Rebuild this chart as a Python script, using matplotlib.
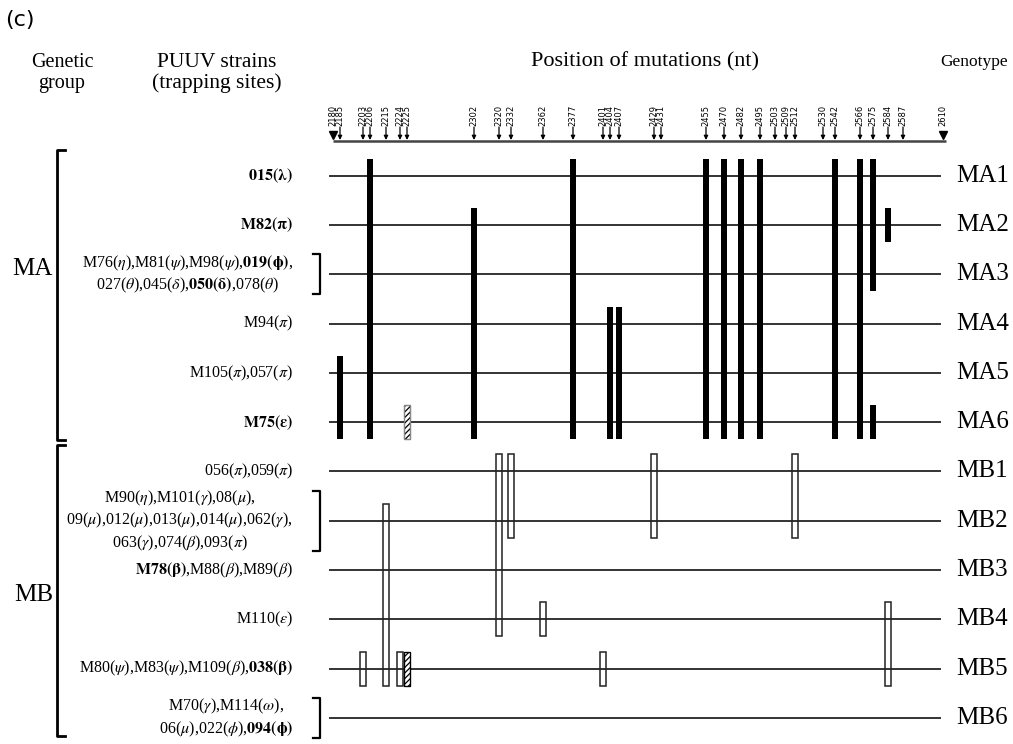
import numpy as np
import matplotlib.pyplot as plt
from matplotlib.patches import Rectangle

plt.rcParams['font.family'] = ['Liberation Serif', 'DejaVu Serif']
plt.rcParams['mathtext.fontset'] = 'stix'
plt.rcParams['hatch.linewidth'] = 0.9

# ---- data ----
# mutation positions (nt) shown on the header axis
mut_nt = [2180, 2185, 2203, 2206, 2215, 2224, 2225, 2302, 2320, 2332, 2362,
          2377, 2401, 2404, 2407, 2429, 2431, 2455, 2470, 2482, 2495, 2503,
          2509, 2512, 2530, 2542, 2566, 2575, 2584, 2587, 2610]

genotypes = ['MA1', 'MA2', 'MA3', 'MA4', 'MA5', 'MA6',
             'MB1', 'MB2', 'MB3', 'MB4', 'MB5', 'MB6']

strains = [
    r'$\mathbf{015(\lambda)}$',
    r'$\mathbf{M82(\pi)}$',
    r'M76($\eta$),M81($\psi$),M98($\psi$),$\mathbf{019(\phi)}$,' '\n'
    r'027($\theta$),045($\delta$),$\mathbf{050(\delta)}$,078($\theta$)',
    r'M94($\pi$)',
    r'M105($\pi$),057($\pi$)',
    r'$\mathbf{M75(\varepsilon)}$',
    r'056($\pi$),059($\pi$)',
    r'M90($\eta$),M101($\gamma$),08($\mu$),' '\n'
    r'09($\mu$),012($\mu$),013($\mu$),014($\mu$),062($\gamma$),' '\n'
    r'063($\gamma$),074($\beta$),093($\pi$)',
    r'$\mathbf{M78(\beta)}$,M88($\beta$),M89($\beta$)',
    r'M110($\varepsilon$)',
    r'M80($\psi$),M83($\psi$),M109($\beta$),$\mathbf{038(\beta)}$',
    r'M70($\gamma$),M114($\omega$),' '\n'
    r'06($\mu$),022($\phi$),$\mathbf{094(\phi)}$',
]

groups = ['MA', 'MB']
group_first = [0, 6]
group_last = [5, 11]

# bars: mutation nt, first genotype row, last genotype row
black_nt = [2185, 2206, 2302, 2377, 2404, 2407, 2455, 2470, 2482, 2495,
            2542, 2566, 2575, 2575, 2584]
black_from = [4, 0, 1, 0, 3, 3, 0, 0, 0, 0, 0, 0, 0, 5, 1]
black_to = [5, 5, 5, 5, 5, 5, 5, 5, 5, 5, 5, 5, 2, 5, 1]

open_nt = [2203, 2215, 2224, 2320, 2332, 2362, 2401, 2429, 2512, 2584]
open_from = [10, 7, 10, 6, 6, 9, 10, 6, 6, 9]
open_to = [10, 10, 10, 9, 7, 9, 10, 7, 7, 10]

hatched_nt = [2225, 2225]
hatched_row = [5, 10]
hatched_edge = ['#888888', 'black']

# ---- layout (pixels) ----
# schematic x position of each mutation on the drawing
mut_x = [333, 340, 363, 370, 386, 400, 407, 474, 499, 511, 543,
         573, 603, 610, 619, 654, 661, 706, 724, 741, 760, 775,
         786, 795, 823, 835, 860, 873, 888, 903, 943]
ROW0, ROW_STEP = 175.7, 49.3
LINE_X0, LINE_X1 = 330, 940
AXIS_Y = 141
BAR_PAD = 17


def xmap(nt):
    return np.interp(nt, mut_nt, mut_x)


def ymap(row):
    return ROW0 + ROW_STEP * np.asarray(row, dtype=float)


fig = plt.figure(figsize=(10.13, 7.44), dpi=100)
ax = fig.add_axes([0, 0, 1, 1])
ax.set_xlim(0, 1013)
ax.set_ylim(744, 0)
ax.axis('off')

# header texts
ax.text(5, 20, '(c)', fontsize=16, family='DejaVu Sans', va='center', ha='left')
ax.text(62, 73, 'Genetic\ngroup', fontsize=14.5, ha='center', va='center',
        linespacing=1.15)
ax.text(217, 73, 'PUUV strains\n(trapping sites)', fontsize=15.5, ha='center',
        va='center', linespacing=1.1)
ax.text(645, 62, 'Position of mutations (nt)', fontsize=16, ha='center', va='center')
ax.text(974, 62, 'Genotype', fontsize=12.5, ha='center', va='center')

# header axis with arrows and nt labels
ax.plot([mut_x[0], mut_x[-1] + 3], [AXIS_Y, AXIS_Y], color='#444444', lw=1.8,
        solid_capstyle='butt')
for nt in mut_nt:
    x = xmap(nt)
    ax.text(x, 126, str(nt), rotation=90, fontsize=6, family='DejaVu Sans',
            ha='center', va='bottom')
    if nt in (mut_nt[0], mut_nt[-1]):
        ax.plot(x, 135, marker='v', color='black', markersize=6)
    else:
        ax.annotate('', xy=(x, AXIS_Y - 1), xytext=(x, 127),
                    arrowprops=dict(arrowstyle='-|>', lw=0.9, color='black',
                                    mutation_scale=6, shrinkA=0, shrinkB=0))

# genotype lines and labels
for i, g in enumerate(genotypes):
    y = ymap(i)
    ax.plot([LINE_X0, LINE_X1], [y, y], color='#333333', lw=1.4, zorder=1)
    ax.text(956, y, g, fontsize=18, ha='left', va='center')
    ax.text(293, y, strains[i], fontsize=11.5, ha='right', va='center',
            multialignment='center', linespacing=1.25)
    nlines = strains[i].count('\n') + 1
    if nlines > 1:
        h = 10 * nlines
        ax.plot([313, 320, 320, 313], [y - h, y - h, y + h, y + h],
                color='black', lw=1.6)

# group brackets
for k, grp in enumerate(groups):
    y0 = ymap(group_first[k]) - 26
    y1 = ymap(group_last[k]) + 18
    ax.plot([65, 57, 57, 65], [y0, y0, y1, y1], color='black', lw=2)
    ymid = ymap(group_first[k]) + ROW_STEP * (1.9 if k == 0 else 2.5)
    ax.text(53, ymid, grp, fontsize=18, ha='right', va='center')

# mutation bars
for nt, r0, r1 in zip(black_nt, black_from, black_to):
    y0 = ymap(r0) - BAR_PAD
    y1 = ymap(r1) + BAR_PAD
    ax.add_patch(Rectangle((xmap(nt) - 3.3, y0), 6.6, y1 - y0,
                           facecolor='black', edgecolor='black', lw=0, zorder=3))

for nt, r0, r1 in zip(open_nt, open_from, open_to):
    y0 = ymap(r0) - BAR_PAD
    y1 = ymap(r1) + BAR_PAD
    ax.add_patch(Rectangle((xmap(nt) - 2.6, y0), 5.2, y1 - y0,
                           facecolor='none', edgecolor='#222222', lw=1.1, zorder=3))

for nt, r, ec in zip(hatched_nt, hatched_row, hatched_edge):
    y0 = ymap(r) - BAR_PAD
    ax.add_patch(Rectangle((xmap(nt) - 2.8, y0), 5.6, 2 * BAR_PAD,
                           facecolor='white', edgecolor='black', hatch='//////',
                           lw=0.8, zorder=3))
    ax.add_patch(Rectangle((xmap(nt) - 2.8, y0), 5.6, 2 * BAR_PAD,
                           facecolor='none', edgecolor=ec, lw=0.9, zorder=4))

fig.savefig('out.png', dpi=100)
